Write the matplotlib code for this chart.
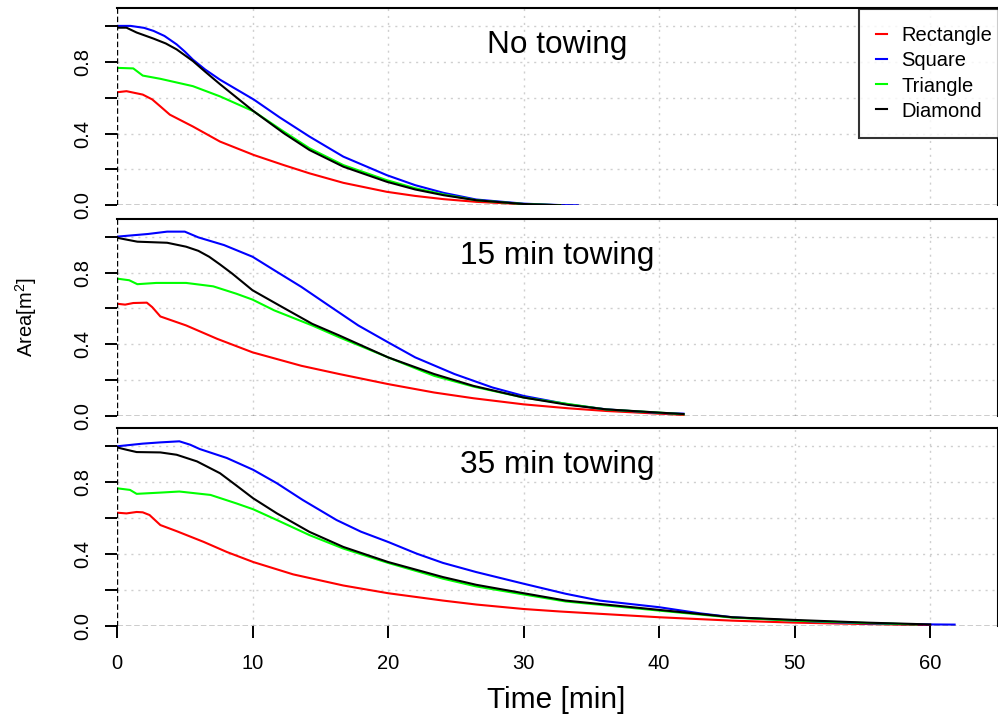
import numpy as np
import matplotlib
matplotlib.use("Agg")
import matplotlib.pyplot as plt

plt.rcParams['font.family'] = ['Liberation Sans', 'DejaVu Sans']
plt.rcParams['mathtext.default'] = 'regular'

# ---- data (time in min, area in m^2) ----
# panel 1: no towing
t1_rect = [0, 0.7, 1.9, 2.6, 3.2, 3.9, 5.6, 7.6, 10.1, 12.3, 14.2, 16.7, 19.9, 22.0, 24.1, 26.5, 30.0, 31.5, 33.0]
a1_rect = [0.630, 0.636, 0.617, 0.590, 0.551, 0.505, 0.439, 0.355, 0.280, 0.224, 0.178, 0.125, 0.075, 0.052, 0.034, 0.019, 0.006, 0.002, 0.0]
t1_squa = [0, 1.0, 2.0, 2.7, 3.5, 4.4, 5.0, 5.6, 6.5, 7.6, 10.1, 12.0, 14.2, 16.7, 19.9, 22.0, 24.1, 26.5, 30.0, 32.7, 34.0]
a1_squa = [1.0, 1.0, 0.989, 0.972, 0.944, 0.897, 0.857, 0.812, 0.757, 0.700, 0.589, 0.490, 0.383, 0.271, 0.168, 0.112, 0.069, 0.032, 0.009, 0.001, 0.0]
t1_tria = [0, 1.2, 1.9, 3.2, 5.6, 7.6, 10.1, 12.3, 14.2, 16.7, 19.9, 22.0, 24.1, 26.5, 30.0, 32.7]
a1_tria = [0.766, 0.763, 0.723, 0.705, 0.664, 0.607, 0.523, 0.411, 0.318, 0.224, 0.140, 0.095, 0.060, 0.028, 0.007, 0.0]
t1_diam = [0, 0.7, 1.45, 2.7, 3.6, 4.4, 5.6, 6.5, 7.6, 10.1, 12.3, 14.2, 16.7, 19.9, 22.0, 24.1, 26.5, 30.0, 32.7]
a1_diam = [0.99, 0.99, 0.963, 0.929, 0.902, 0.869, 0.804, 0.745, 0.675, 0.523, 0.402, 0.308, 0.215, 0.131, 0.088, 0.056, 0.028, 0.007, 0.0]

# panel 2: 15 min towing
t2_rect = [0, 0.6, 1.2, 2.2, 2.6, 3.2, 5.1, 7.4, 10.0, 13.6, 16.4, 20.0, 23.4, 26.3, 30.0, 33.3, 36.1, 40.0, 41.8]
a2_rect = [0.626, 0.621, 0.630, 0.632, 0.607, 0.555, 0.505, 0.430, 0.355, 0.280, 0.234, 0.178, 0.131, 0.099, 0.065, 0.043, 0.028, 0.013, 0.006]
t2_squa = [0, 2.3, 3.7, 5.0, 6.0, 7.9, 10.0, 11.6, 13.6, 15.8, 17.8, 20.0, 22.0, 24.9, 27.7, 30.0, 33.3, 36.1, 40.0, 41.8]
a2_squa = [1.0, 1.015, 1.028, 1.028, 0.996, 0.953, 0.888, 0.813, 0.720, 0.607, 0.505, 0.411, 0.327, 0.234, 0.159, 0.112, 0.065, 0.037, 0.017, 0.013]
t2_tria = [0, 0.9, 1.5, 2.9, 5.1, 7.1, 8.8, 10.0, 11.6, 14.4, 16.4, 20.0, 23.4, 26.3, 30.0, 36.1, 40.0, 41.8]
a2_tria = [0.766, 0.757, 0.735, 0.742, 0.742, 0.723, 0.682, 0.649, 0.589, 0.505, 0.439, 0.327, 0.224, 0.164, 0.103, 0.036, 0.019, 0.010]
t2_diam = [0, 0.6, 1.5, 3.7, 5.1, 6.0, 6.8, 7.6, 8.5, 10.0, 12.2, 14.4, 16.4, 20.0, 23.4, 26.3, 30.0, 33.3, 36.1, 40.0, 41.8]
a2_diam = [0.994, 0.985, 0.972, 0.966, 0.944, 0.921, 0.888, 0.845, 0.794, 0.701, 0.607, 0.514, 0.449, 0.327, 0.234, 0.168, 0.103, 0.062, 0.037, 0.019, 0.011]

# panel 3: 35 min towing
t3_rect = [0, 0.7, 1.45, 1.9, 2.4, 3.2, 4.4, 6.4, 8.1, 10.05, 13.0, 16.7, 20.0, 24.05, 26.5, 30.0, 32.7, 40.0, 45.4, 50.0, 55.3, 57.7, 60.0]
a3_rect = [0.630, 0.626, 0.634, 0.632, 0.617, 0.561, 0.527, 0.467, 0.411, 0.355, 0.286, 0.224, 0.181, 0.140, 0.118, 0.093, 0.079, 0.047, 0.028, 0.017, 0.009, 0.006, 0.003]
t3_squa = [0, 1.9, 3.2, 4.6, 5.4, 6.1, 8.1, 10.05, 11.8, 13.7, 16.2, 18.0, 20.0, 22.1, 24.05, 26.5, 30.0, 33.1, 35.6, 40.0, 43.0, 45.4, 50.0, 52.8, 55.3, 57.7, 60.0, 61.8]
a3_squa = [1.0, 1.015, 1.022, 1.028, 1.009, 0.985, 0.935, 0.869, 0.794, 0.701, 0.589, 0.524, 0.467, 0.402, 0.350, 0.299, 0.234, 0.178, 0.140, 0.103, 0.069, 0.047, 0.028, 0.019, 0.013, 0.009, 0.007, 0.006]
t3_tria = [0, 0.96, 1.45, 3.2, 4.6, 6.9, 8.8, 10.05, 11.8, 14.2, 16.7, 20.0, 24.05, 26.5, 30.0, 33.1, 40.0, 45.4, 50.0, 55.3, 59.0]
a3_tria = [0.766, 0.757, 0.735, 0.742, 0.748, 0.729, 0.682, 0.649, 0.589, 0.505, 0.430, 0.350, 0.262, 0.219, 0.174, 0.135, 0.084, 0.045, 0.028, 0.015, 0.007]
t3_diam = [0, 0.7, 1.45, 3.2, 4.4, 5.9, 7.6, 8.8, 10.05, 11.8, 14.2, 16.7, 20.0, 24.05, 26.5, 30.0, 33.1, 40.0, 45.4, 50.0, 55.3, 60.0]
a3_diam = [0.994, 0.981, 0.968, 0.966, 0.953, 0.916, 0.850, 0.782, 0.710, 0.626, 0.523, 0.439, 0.355, 0.271, 0.228, 0.181, 0.140, 0.088, 0.047, 0.032, 0.017, 0.007]

panel_titles = ["No towing", "15 min towing", "35 min towing"]
shape_names = ["Rectangle", "Square", "Triangle", "Diamond"]
shape_colors = ["#ff0000", "#0000ff", "#00ff00", "#000000"]

panels = [
    [(t1_rect, a1_rect), (t1_squa, a1_squa), (t1_tria, a1_tria), (t1_diam, a1_diam)],
    [(t2_rect, a2_rect), (t2_squa, a2_squa), (t2_tria, a2_tria), (t2_diam, a2_diam)],
    [(t3_rect, a3_rect), (t3_squa, a3_squa), (t3_tria, a3_tria), (t3_diam, a3_diam)],
]

fig = plt.figure(figsize=(9.98, 7.24), dpi=100)

left = 117 / 998
width = 1 - left
height = 0.2725
bottoms = [0.7165, 0.4254, 0.1358]

grid_style = dict(color="#cfcfcf", linewidth=1.0, linestyle=(0, (1.5, 3.5)))

axes = []
for i, bottom in enumerate(bottoms):
    ax = fig.add_axes([left, bottom, width, height])
    ax.set_xlim(0, 65)
    ax.set_ylim(0, 1.1)
    for v in [10, 20, 30, 40, 50, 60]:
        ax.axvline(v, zorder=0, **grid_style)
    for h in [0.2, 0.4, 0.6, 0.8, 1.0]:
        ax.axhline(h, zorder=0, **grid_style)

    for (t, a), name, col in zip(panels[i], shape_names, shape_colors):
        ax.plot(t, a, color=col, linewidth=1.5, label=name)

    # dashed zero lines take the place of the left/bottom box edges
    ax.axhline(0, color="black", linewidth=1.0, linestyle=(0, (4, 2)), zorder=3)
    ax.axvline(0, color="black", linewidth=1.0, linestyle=(0, (4, 2)), zorder=3)

    ax.spines["left"].set_visible(False)
    ax.spines["bottom"].set_visible(False)
    ax.spines["top"].set_linewidth(1.5)
    ax.spines["right"].set_linewidth(1.5)

    ax.set_yticks([0, 0.2, 0.4, 0.6, 0.8, 1.0])
    ax.set_yticklabels(["0.0", "", "0.4", "", "0.8", ""], rotation=90, va="center")
    ax.tick_params(axis="y", length=8.5, width=1.4, pad=9, labelsize=14.5)

    ax.text(32.5, 0.85, panel_titles[i], fontsize=22.7, ha="center", va="baseline")

    if i < 2:
        ax.set_xticks([])
    else:
        ax.set_xticks([0, 10, 20, 30, 40, 50, 60])
        ax.tick_params(axis="x", length=8.5, width=1.4, pad=12, labelsize=14.5)
    axes.append(ax)

leg = axes[0].legend(loc="upper left", bbox_to_anchor=(859 / 998, 1 - 9.3 / 724),
                     bbox_transform=fig.transFigure, fontsize=14.5, frameon=True,
                     fancybox=False, edgecolor="black", borderpad=0.85,
                     handlelength=0.55, handletextpad=0.7, labelspacing=0.3,
                     borderaxespad=0)
leg.get_frame().set_linewidth(1.5)
for line in leg.get_lines():
    line.set_linewidth(1.5)

fig.text(26 / 998, 1 - 317 / 724, "Area[m$^{2}$]", rotation=90, ha="center", va="center", fontsize=14.5)
fig.text(556.5 / 998, 1 - 708 / 724, "Time [min]", ha="center", va="baseline", fontsize=21.5)

fig.savefig("out.png", dpi=100)
